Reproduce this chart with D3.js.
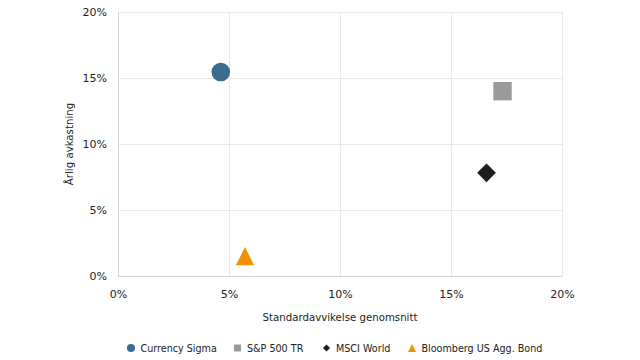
<!DOCTYPE html>
<html><head><meta charset="utf-8">
<script src="https://cdn.jsdelivr.net/npm/d3@7"></script>
<style>body{margin:0;background:#fff}svg{display:block;font-family:"DejaVu Sans",Verdana,sans-serif}</style>
</head><body><svg id="c" width="640" height="360"></svg>
<script>
const names = ["Currency Sigma","S&P 500 TR","MSCI World","Bloomberg US Agg. Bond"];
const risk = [4.63, 17.32, 16.6, 5.72];
const ret = [15.45, 14.0, 7.82, 1.5];
const colors = ["#3b6b8d","#9a9a9a","#1e1e1e","#f39200"];
const ticks = [0,5,10,15,20];
const xTitle = "Standardavvikelse genomsnitt";
const yTitle = "Årlig avkastning";

const tallTriangle = {draw(ctx, size){ const h = Math.sqrt(size); ctx.moveTo(0,-h/2); ctx.lineTo(h/2,h/2); ctx.lineTo(-h/2,h/2); ctx.closePath(); }};
const shapes = [d3.symbolCircle, d3.symbolSquare, d3.symbolSquare, tallTriangle];
const rot = [0,0,45,0];

const svg = d3.select("#c");
const m = {l:118, r:562, t:12, b:276};
const x = d3.scaleLinear().domain([0,20]).range([m.l,m.r]);
const y = d3.scaleLinear().domain([0,20]).range([m.b,m.t]);

svg.append("g").selectAll("line").data(ticks).join("line")
  .attr("x1",d=>x(d)).attr("x2",d=>x(d)).attr("y1",m.t).attr("y2",m.b)
  .attr("stroke","#e8e8e8").attr("shape-rendering","crispEdges");
svg.append("g").selectAll("line").data(ticks).join("line")
  .attr("x1",m.l).attr("x2",m.r).attr("y1",d=>y(d)).attr("y2",d=>y(d))
  .attr("stroke","#e8e8e8").attr("shape-rendering","crispEdges");
svg.append("line").attr("x1",m.l).attr("x2",m.l).attr("y1",m.t).attr("y2",m.b).attr("stroke","#d4d4d4").attr("shape-rendering","crispEdges");
svg.append("line").attr("x1",m.l).attr("x2",m.r).attr("y1",m.b).attr("y2",m.b).attr("stroke","#d4d4d4").attr("shape-rendering","crispEdges");

const xa = d3.axisBottom(x).tickValues(ticks).tickFormat(d=>d+"%").tickSize(0).tickPadding(14);
const gx = svg.append("g").attr("transform",`translate(0,${m.b})`).call(xa);
gx.select(".domain").remove();
gx.selectAll("text").attr("font-size",11).attr("fill","#222").attr("font-family","DejaVu Sans");
const ya = d3.axisLeft(y).tickValues(ticks).tickFormat(d=>d+"%").tickSize(0).tickPadding(11);
const gy = svg.append("g").attr("transform",`translate(${m.l},0)`).call(ya);
gy.select(".domain").remove();
gy.selectAll("text").attr("font-size",11).attr("fill","#222").attr("font-family","DejaVu Sans");

svg.append("text").attr("x",(m.l+m.r)/2).attr("y",321).attr("text-anchor","middle")
  .attr("font-size",10.2).attr("fill","#222").text(xTitle);
svg.append("text").attr("transform",`translate(73,${(m.t+m.b)/2}) rotate(-90)`).attr("text-anchor","middle")
  .attr("font-size",10.2).attr("fill","#222").text(yTitle);

const sizes = [272, 338, 175, 330];
svg.append("g").selectAll("path").data(names).join("path")
  .attr("transform",(d,i)=>`translate(${x(risk[i])},${y(ret[i])}) rotate(${rot[i]})`)
  .attr("d",(d,i)=>d3.symbol().type(shapes[i]).size(sizes[i])())
  .attr("fill",(d,i)=>colors[i]);

const lx = [131, 237.5, 326.5, 412];
const lsizes = [52, 49, 26, 64];
const lg = svg.append("g");
names.forEach((n,i)=>{
  lg.append("path").attr("transform",`translate(${lx[i]},348) rotate(${rot[i]})`)
    .attr("d",d3.symbol().type(shapes[i]).size(lsizes[i])()).attr("fill",colors[i]);
  lg.append("text").attr("x",lx[i]+9.5).attr("y",351.5).attr("font-size",9.6).attr("fill","#222").text(n);
});
</script></body></html>
